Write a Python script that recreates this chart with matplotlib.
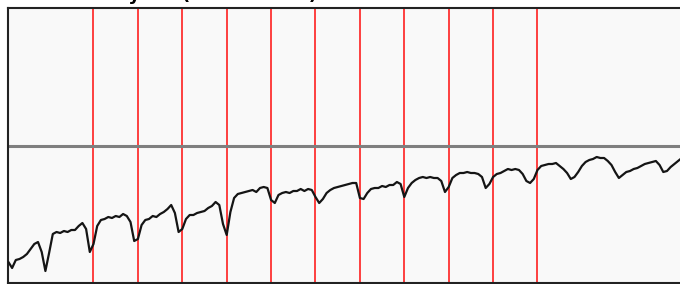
import numpy as np
import matplotlib.pyplot as plt

# monthly values, starting Jan 2008 (arbitrary units, bottom of plot = 0)
values = [21, 21, 15, 23, 24, 26, 29, 34, 39, 41, 31, 12,
          30, 49, 51, 50, 52, 51, 53, 53, 57, 60, 54, 31,
          39, 57, 63, 64, 66, 65, 67, 66, 69, 67, 61, 42,
          44, 58, 63, 64, 67, 66, 69, 71, 74, 78, 70, 51,
          54, 64, 68, 68, 70, 71, 72, 75, 77, 81, 78, 59,
          48, 71, 85, 89, 90, 91, 92, 93, 91, 95, 96, 95,
          83, 80, 88, 90, 91, 90, 92, 92, 94, 92, 94, 93,
          86, 80, 84, 90, 93, 95, 96, 97, 98, 99, 100, 100,
          85, 84, 90, 94, 95, 95, 97, 96, 98, 98, 101, 99,
          86, 95, 100, 103, 105, 106, 105, 106, 105, 105, 102, 91,
          96, 105, 108, 110, 110, 111, 110, 110, 109, 106, 95, 99,
          106, 109, 110, 112, 114, 113, 114, 113, 109, 102, 100, 104,
          113, 117, 118, 119, 119, 120, 117, 114, 110, 104, 106, 111,
          117, 121, 123, 124, 126, 125, 125, 122, 118, 111, 105, 108,
          111, 112, 114, 115, 117, 119, 120, 121, 122, 118, 111, 112,
          116, 119, 122, 125]
start_year = 2008
year_marks = list(range(2010, 2021))
reference_level = 137
title = "Weekly US (Normalised)"

months = start_year + np.arange(len(values)) / 12

fig = plt.figure(figsize=(6.8, 2.84), dpi=100)
ax = fig.add_axes([7.5/680, 1/284, 676.5/680, 275/284])
ax.set_facecolor('#f9f9f9')

for yr in year_marks:
    ax.axvline(yr, color='red', alpha=0.8, lw=1.3, zorder=1)
ax.axhline(reference_level, color='#7f7f7f', lw=2.2, zorder=2)
ax.plot(months, values, color='#151515', lw=1.6, zorder=3)

ax.set_xlim(2008.063, 2023.3)
ax.set_ylim(0, 275)
ax.set_xticks([])
ax.set_yticks([])
for s in ax.spines.values():
    s.set_linewidth(1.5)
    s.set_color('#222222')

fig.text(65.2/680, 1.0, title, fontsize=13.3, fontweight='bold',
         va='baseline', ha='left')

fig.savefig('out.png', dpi=100)
